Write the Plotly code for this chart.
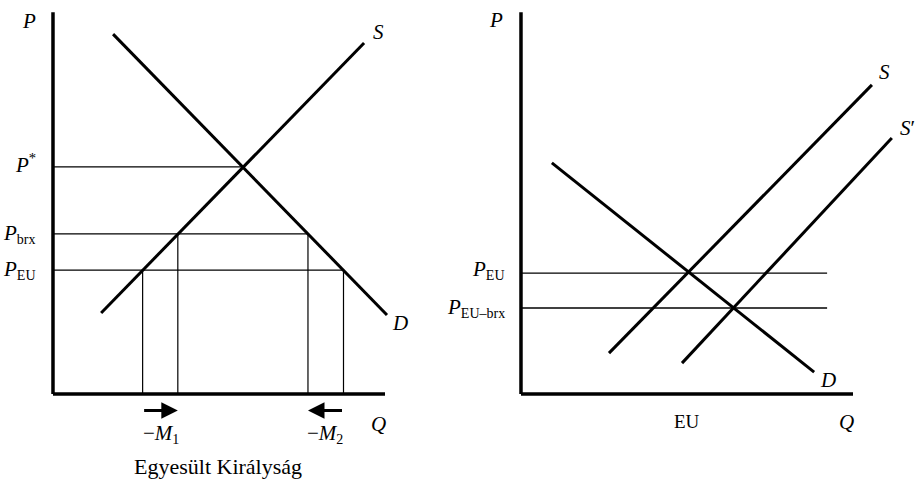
import plotly.graph_objects as go

# --- left panel: Egyesült Királyság (Q, P in model units) ---
uk_axis_q = [0, 10.0]
uk_axis_p = [0, 11.5]
uk_supply_q = [1.45, 9.37]
uk_supply_p = [2.44, 10.57]
uk_demand_q = [1.81, 10.06]
uk_demand_p = [10.84, 2.38]
uk_q_star = 5.72
uk_p_star = 6.84
uk_p_brx = 4.82
uk_p_eu = 3.73
uk_q_brx = [3.76, 7.68]   # supply, demand at P_brx
uk_q_eu = [2.70, 8.75]    # supply, demand at P_EU
uk_arrow_p = -0.5

# --- right panel: EU ---
eu_axis_q = [0, 10.0]
eu_axis_p = [0, 11.5]
eu_supply_q = [2.65, 10.57]
eu_supply_p = [1.23, 9.31]
eu_supply2_q = [4.85, 11.17]
eu_supply2_p = [0.93, 7.71]
eu_demand_q = [0.93, 8.83]
eu_demand_p = [6.96, 0.66]
eu_p_eu = 3.64
eu_p_brx = 2.59
eu_line_end = 9.22
eu_q_tick = 5.0

SERIF = "Liberation Serif"
BLACK = "#000000"

fig = go.Figure()


def seg(x, y, width, xa="x", ya="y"):
    fig.add_trace(go.Scatter(x=x, y=y, mode="lines", xaxis=xa, yaxis=ya,
                             line=dict(color=BLACK, width=width),
                             hoverinfo="skip", showlegend=False))


def sub(s):
    # small upright subscript like in the printed figure
    return '<sub><span style="font-size:14px">%s</span></sub>' % s


# left panel
seg([0, 0], uk_axis_p, 3.5)
seg(uk_axis_q, [0, 0], 3.5)
seg([0, uk_q_star], [uk_p_star, uk_p_star], 1.3)
seg([0, uk_q_brx[1]], [uk_p_brx, uk_p_brx], 1.3)
seg([0, uk_q_eu[1]], [uk_p_eu, uk_p_eu], 1.3)
for q in uk_q_brx:
    seg([q, q], [0, uk_p_brx], 1.2)
for q in uk_q_eu:
    seg([q, q], [0, uk_p_eu], 1.2)
seg(uk_supply_q, uk_supply_p, 3)
seg(uk_demand_q, uk_demand_p, 3)

# right panel
seg([0, 0], eu_axis_p, 3.5, "x2", "y2")
seg(eu_axis_q, [0, 0], 3.5, "x2", "y2")
seg([0, eu_line_end], [eu_p_eu, eu_p_eu], 1.3, "x2", "y2")
seg([0, eu_line_end], [eu_p_brx, eu_p_brx], 1.3, "x2", "y2")
seg(eu_supply_q, eu_supply_p, 3, "x2", "y2")
seg(eu_supply2_q, eu_supply2_p, 3, "x2", "y2")
seg(eu_demand_q, eu_demand_p, 3, "x2", "y2")

ann = []


def label(text, x, y, xref="x", yref="y", size=21, xanchor="center"):
    ann.append(dict(text=text, x=x, y=y, xref=xref, yref=yref, showarrow=False,
                    xanchor=xanchor, yanchor="middle",
                    font=dict(family=SERIF, size=size, color=BLACK)))


# left labels
label("<i>P</i>", -0.72, 11.23)
label("<i>S</i>", 9.79, 10.9)
label("<i>D</i>", 10.45, 2.14)
label("<i>Q</i>", 9.79, -0.9)
label("<i>P</i><sup>*</sup>", -0.45, uk_p_star + 0.1, xanchor="right")
label("<i>P</i>" + sub("brx"), -0.45, uk_p_brx, xanchor="right")
label("<i>P</i>" + sub("EU"), -0.45, uk_p_eu, xanchor="right")
label("\u2212<i>M</i>" + sub("1"), 3.25, -1.2)
label("\u2212<i>M</i>" + sub("2"), 8.2, -1.2)
label("Egyesült Királyság", 4.97, -2.17, size=22)

# right labels
label("<i>P</i>", -0.75, 11.26, "x2", "y2")
label("<i>S</i>", 10.96, 9.7, "x2", "y2")
label("<i>S</i>\u2032", 11.65, 8.01, "x2", "y2")
label("<i>D</i>", 9.25, 0.42, "x2", "y2")
label("<i>Q</i>", 9.79, -0.84, "x2", "y2")
label("EU", eu_q_tick, -0.84, "x2", "y2", size=19)
label("<i>P</i>" + sub("EU"), -0.42, eu_p_eu + 0.1, "x2", "y2", xanchor="right")
label("<i>P</i>" + sub("EU\u2013brx"), -0.42, eu_p_brx, "x2", "y2", xanchor="right")

# import change arrows
for tail, head in zip([uk_q_eu[0], uk_q_eu[1]], [uk_q_brx[0], uk_q_brx[1]]):
    ann.append(dict(x=head, y=uk_arrow_p, ax=tail, ay=uk_arrow_p,
                    xref="x", yref="y", axref="x", ayref="y", text="",
                    showarrow=True, arrowhead=2, arrowsize=1.1, arrowwidth=3,
                    arrowcolor=BLACK, standoff=0, startstandoff=0))

hidden = dict(visible=False, fixedrange=True)
fig.update_layout(
    width=919, height=480,
    margin=dict(l=0, r=0, t=0, b=0),
    paper_bgcolor="white", plot_bgcolor="white",
    xaxis=dict(domain=[0, 0.5], range=[-1.596, 12.244], **hidden),
    yaxis=dict(domain=[0, 1], range=[-2.590, 11.867], **hidden),
    xaxis2=dict(domain=[0.5, 1], range=[-1.852, 11.988], anchor="y2", **hidden),
    yaxis2=dict(domain=[0, 1], range=[-2.590, 11.867], anchor="x2", **hidden),
    annotations=ann,
)

fig.write_html(
    "out.html",
    config={"displayModeBar": False},
    post_script="document.body.style.margin='0';document.body.style.overflow='hidden';",
)
